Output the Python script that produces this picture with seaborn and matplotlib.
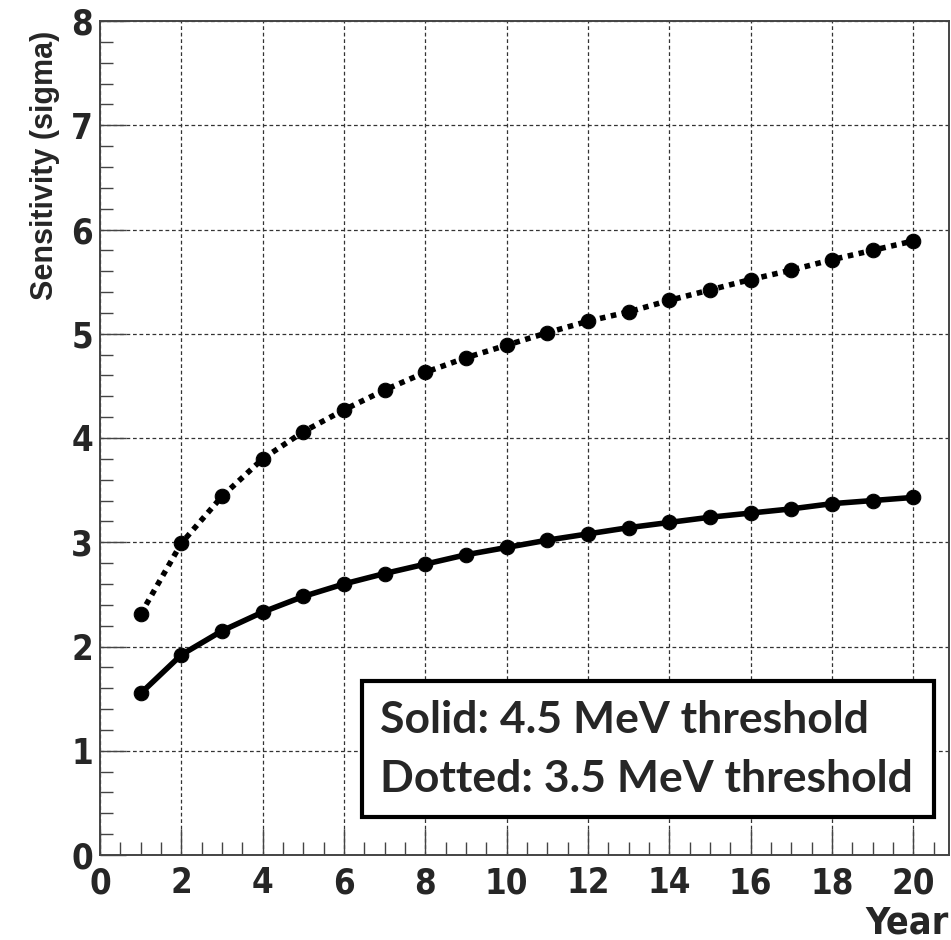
import matplotlib
matplotlib.use("Agg")
import matplotlib.pyplot as plt
import seaborn as sns
import pandas as pd
from matplotlib.ticker import MultipleLocator
from matplotlib.patches import Rectangle

years = list(range(1, 21))
solid_45 = [1.55, 1.92, 2.15, 2.33, 2.48, 2.60, 2.70, 2.79, 2.88, 2.95,
            3.02, 3.08, 3.14, 3.19, 3.24, 3.28, 3.32, 3.37, 3.40, 3.43]
dotted_35 = [2.31, 2.99, 3.44, 3.80, 4.06, 4.27, 4.46, 4.63, 4.77, 4.89,
             5.01, 5.12, 5.21, 5.32, 5.42, 5.52, 5.61, 5.71, 5.80, 5.89]
x_ticks = list(range(0, 21, 2))
y_ticks = list(range(0, 9))
legend_lines = ["Solid: 4.5 MeV threshold", "Dotted: 3.5 MeV threshold"]

df = pd.DataFrame({"Year": years, "solid": solid_45, "dotted": dotted_35})

sns.set_style("ticks")
plt.rcParams["font.family"] = ["DejaVu Sans"]

W, H = 951, 940
fig = plt.figure(figsize=(W / 100, H / 100), dpi=100)
ax = fig.add_axes([100 / W, 1 - 855 / H, 849 / W, 834 / H])

sns.lineplot(data=df, x="Year", y="dotted", ax=ax, color="black", lw=4.0,
             linestyle=(0, (1, 1)), marker="o", markersize=10.5,
             markeredgecolor="black", zorder=3)
sns.lineplot(data=df, x="Year", y="solid", ax=ax, color="black", lw=4.0,
             marker="o", markersize=10.5, markeredgecolor="black", zorder=3)

ax.set_xlim(0, 20.88)
ax.set_ylim(0, 8)
ax.set_xticks(x_ticks)
ax.set_yticks(y_ticks)
ax.xaxis.set_minor_locator(MultipleLocator(0.5))
ax.yaxis.set_minor_locator(MultipleLocator(0.2))

ax.grid(True, which="major", color="#333333", lw=0.9, linestyle=(0, (3, 2.2)), zorder=0)
ax.set_axisbelow(True)

for sp in ax.spines.values():
    sp.set_color("#444444")
    sp.set_linewidth(1.4)

tick_font = dict(family="DejaVu Sans", stretch="condensed", weight="bold", size=25)
ax.tick_params(axis="both", which="major", direction="in", length=19, width=1.0,
               color="#444444", top=False, right=False)
ax.tick_params(axis="both", which="minor", direction="in", length=9.5, width=1.0,
               color="#444444", top=False, right=False)
ax.tick_params(axis="x", which="major", pad=8)
ax.tick_params(axis="y", which="major", pad=5)
ax.set_xticklabels([str(t) for t in x_ticks], **tick_font)
ax.set_yticklabels([str(t) for t in y_ticks], **tick_font)

ax.set_xlabel("Year", family="DejaVu Sans", stretch="condensed", weight="bold",
              size=27, loc="right", labelpad=4)
ax.set_ylabel("Sensitivity (sigma)", family=["Liberation Sans", "DejaVu Sans"],
              weight="bold", size=22, loc="top")
ax.yaxis.set_label_coords(-0.047, 0.988)

# annotation box
box = Rectangle((362, H - 817), 572, 136, transform=None, fill=True,
                facecolor="white", edgecolor="black", lw=3.0, zorder=5)
fig.patches.append(box)
fig.text(380 / W, 1 - 733 / H, legend_lines[0], family=["Lato", "DejaVu Sans"],
         weight="bold", size=32, ha="left", va="baseline", zorder=6)
fig.text(380 / W, 1 - 792 / H, legend_lines[1], family=["Lato", "DejaVu Sans"],
         weight="bold", size=32, ha="left", va="baseline", zorder=6)

fig.savefig("out.png", dpi=100)
